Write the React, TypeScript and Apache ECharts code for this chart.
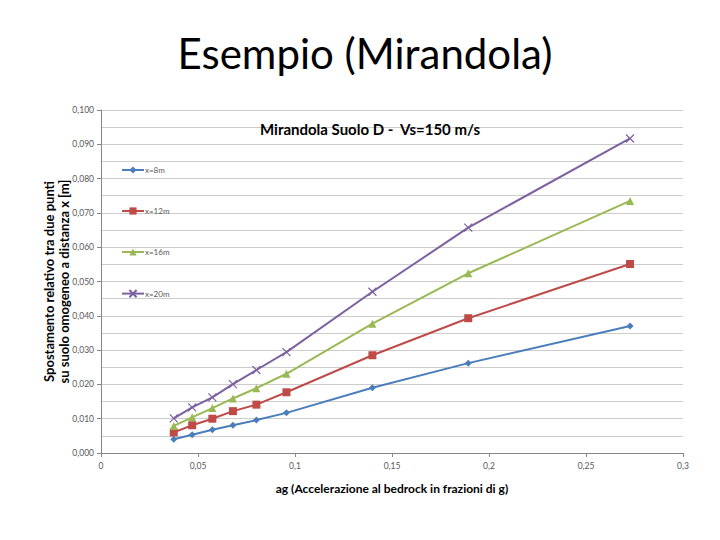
import React, { useEffect, useRef } from "react";
import * as echarts from "echarts";

const agValues = [0.0375, 0.047, 0.0574, 0.068, 0.0801, 0.0956, 0.1399, 0.1893, 0.2727];
const seriesNames = ["x=8m", "x=12m", "x=16m", "x=20m"];
const x8m = [0.004, 0.0053, 0.0068, 0.0081, 0.0096, 0.0117, 0.019, 0.0262, 0.037];
const x12m = [0.006, 0.0081, 0.01, 0.0122, 0.0141, 0.0177, 0.0285, 0.0393, 0.0551];
const x16m = [0.0079, 0.0104, 0.0131, 0.0159, 0.0189, 0.0231, 0.0377, 0.0524, 0.0735];
const x20m = [0.0101, 0.0133, 0.0162, 0.0201, 0.0242, 0.0294, 0.047, 0.0657, 0.0917];

const mainTitle = "Esempio (Mirandola)";
const chartTitle = "Mirandola Suolo D -  Vs=150 m/s";
const xAxisName = "ag (Accelerazione al bedrock in frazioni di g)";
const yAxisName = "Spostamento relativo tra due punti\nsu suolo omogeneo a distanza x [m]";

const colors = ["#4a7ebb", "#be4b48", "#98b954", "#7d60a0"];
const symbols = ["diamond", "rect", "triangle", "path://M0,0L10,10M10,0L0,10"];
const symbolSizes = [7, 8, 8, 8];

export default function App() {
  const ref = useRef<HTMLDivElement>(null);
  useEffect(() => {
    if (!ref.current) return;
    const chart = echarts.init(ref.current, undefined, { renderer: "svg" });
    const allData = [x8m, x12m, x16m, x20m];
    const font = "Lato, 'Open Sans', sans-serif";
    chart.setOption({
      animation: false,
      backgroundColor: "#ffffff",
      textStyle: { fontFamily: font },
      title: [
        {
          text: mainTitle,
          left: 360,
          textAlign: "center",
          top: 27,
          textStyle: { fontSize: 42, fontWeight: "normal", color: "#000", fontFamily: font },
        },
        {
          text: chartTitle,
          left: 365,
          textAlign: "center",
          top: 116,
          textStyle: { fontSize: 15, fontWeight: "bold", color: "#000", fontFamily: font },
        },
      ],
      legend: {
        orient: "vertical",
        left: 116,
        top: 161,
        itemGap: 33,
        itemWidth: 22,
        itemHeight: 9,
        textStyle: { fontSize: 8, color: "#595959", padding: [0, 0, 0, -4] },
        data: seriesNames,
      },
      grid: { left: 101, right: 37, top: 110, bottom: 87 },
      xAxis: {
        type: "value",
        min: 0,
        max: 0.3,
        interval: 0.05,
        name: xAxisName,
        nameLocation: "middle",
        nameGap: 29,
        nameMoveOverlap: false,
        nameTextStyle: { fontSize: 12, fontWeight: "bold", color: "#000" },
        axisLine: { show: true, lineStyle: { color: "#868686" } },
        axisTick: { show: true, length: 4, lineStyle: { color: "#868686" } },
        splitLine: { show: false },
        axisLabel: {
          fontSize: 8.5,
          color: "#595959",
          margin: 8,
          formatter: (v: number) => String(Math.round(v * 100) / 100).replace(".", ","),
        },
      },
      yAxis: {
        type: "value",
        min: 0,
        max: 0.1,
        interval: 0.01,
        name: yAxisName,
        nameLocation: "middle",
        nameRotate: 90,
        nameGap: 30,
        nameMoveOverlap: false,
        nameTextStyle: { fontSize: 13, fontWeight: "bold", color: "#000", lineHeight: 15 },
        axisLine: { show: true, lineStyle: { color: "#868686" } },
        axisTick: { show: true, length: 4, lineStyle: { color: "#868686" } },
        splitLine: { show: true, lineStyle: { color: "#cccccc", width: 1 } },
        minorTick: { show: false, splitNumber: 2 },
        minorSplitLine: { show: true, lineStyle: { color: "#cccccc", width: 1 } },
        axisLabel: {
          fontSize: 8.5,
          color: "#595959",
          margin: 7,
          formatter: (v: number) => v.toFixed(3).replace(".", ","),
        },
      },
      series: seriesNames.map((name, i) => ({
        name,
        type: "line",
        data: agValues.map((x, j) => [x, allData[i][j]]),
        symbol: symbols[i],
        symbolSize: symbolSizes[i],
        showSymbol: true,
        lineStyle: { color: colors[i], width: 2 },
        itemStyle:
          i === 3
            ? { color: colors[i], borderColor: colors[i], borderWidth: 1.2 }
            : { color: colors[i], borderWidth: 0 },
        z: 2 + i,
      })),
    });
    return () => chart.dispose();
  }, []);
  return (
    <div
      ref={ref}
      style={{ position: "fixed", left: 0, top: 0, width: 720, height: 540 }}
    />
  );
}
